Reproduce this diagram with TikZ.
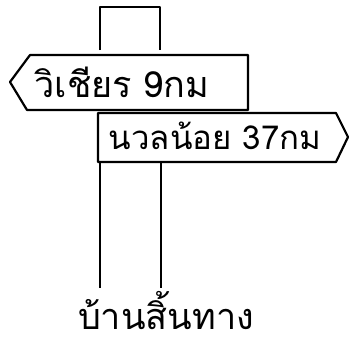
\documentclass[tikz,border=0pt]{standalone}
\usepackage{fontspec}
\newfontfamily\thaifont[Script=Thai]{Loma}

\begin{document}
\begin{tikzpicture}[x=1pt, y=-1pt, line width=2.2pt, line join=round,
  signtext/.style={font=\thaifont\fontsize{36}{42}\selectfont, inner sep=0pt}]
\useasboundingbox (0,0) rectangle (350,349);

% post top
\coordinate (capL) at (100,7);
\coordinate (capR) at (160,7);
\coordinate (topL) at (100,50);
\coordinate (topR) at (160,50);
\draw (topL) -- (capL) -- (capR) -- (topR);

% sign pointing left
\draw (30,55) -- (248,55) -- (248,110) -- (27,110) -- (10,82) -- cycle;
\node[signtext] (wichian) at (122,82) {วิเชียร 9กม};

% sign pointing right
\draw (98,113) -- (336,113) -- (348,137) -- (336,162) -- (98,162) -- cycle;
\node[signtext, font=\thaifont\fontsize{33}{40}\selectfont] (nuan) at (215,136) {นวลน้อย 37กม};

% post bottom
\coordinate (botL) at (100,162);
\coordinate (botR) at (161,162);
\coordinate (footL) at (100,288);
\coordinate (footR) at (161,288);
\draw (botL) -- (footL);
\draw (botR) -- (footR);

\node[signtext] (ban) at (166,311) {บ้านสิ้นทาง};
\end{tikzpicture}
\end{document}
